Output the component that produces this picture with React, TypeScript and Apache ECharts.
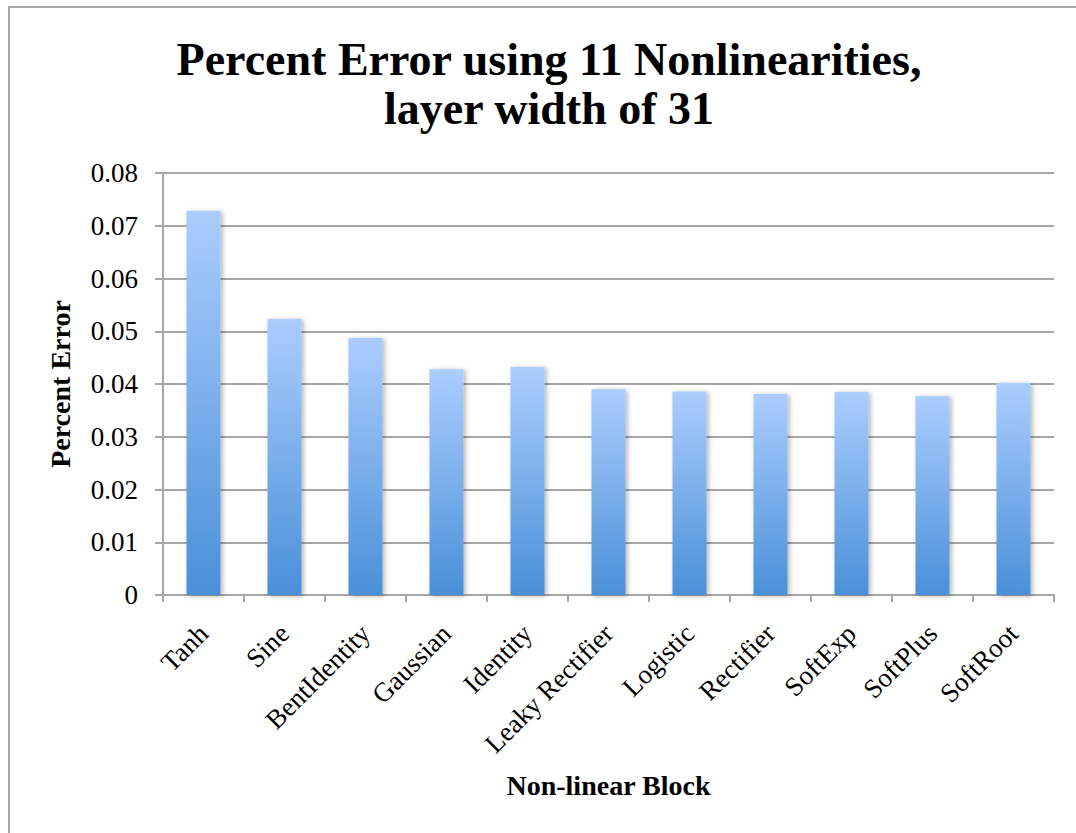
import React, { useEffect, useRef } from "react";
import * as echarts from "echarts";

const categories = [
  "Tanh",
  "Sine",
  "BentIdentity",
  "Gaussian",
  "Identity",
  "Leaky Rectifier",
  "Logistic",
  "Rectifier",
  "SoftExp",
  "SoftPlus",
  "SoftRoot",
];

const percentError = [
  0.0728, 0.0523, 0.0487, 0.0428, 0.0432, 0.039, 0.0386, 0.0381, 0.0385, 0.0377, 0.0402,
];

const titleLines = ["Percent Error using 11 Nonlinearities,", "layer width of 31"];
const xAxisTitle = "Non-linear Block";
const yAxisTitle = "Percent Error";

const SERIF = "'Liberation Serif', 'Times New Roman', serif";
const GRID_GRAY = "#a6a6a6";

export default function App() {
  const ref = useRef<HTMLDivElement>(null);

  useEffect(() => {
    if (!ref.current) return;
    const chart = echarts.init(ref.current, null, { renderer: "svg" });
    chart.setOption({
      animation: false,
      backgroundColor: "#ffffff",
      grid: { left: 163, right: 22, top: 173, bottom: 238, containLabel: false },
      graphic: [
        {
          type: "rect",
          z: -10,
          shape: { x: 9, y: 7, width: 1200, height: 1000 },
          style: { fill: "none", stroke: GRID_GRAY, lineWidth: 2 },
        },
        {
          type: "text",
          x: 549,
          y: 35,
          style: {
            text: titleLines.join("\n"),
            font: `bold 46px ${SERIF}`,
            lineHeight: 49,
            textAlign: "center",
            textVerticalAlign: "top",
            fill: "#000",
          },
        },
      ],
      xAxis: {
        type: "category",
        data: categories,
        name: xAxisTitle,
        nameLocation: "middle",
        nameGap: 176,
        nameTextStyle: { fontFamily: SERIF, fontWeight: "bold", fontSize: 28, color: "#000" },
        axisLine: { lineStyle: { color: GRID_GRAY, width: 2 } },
        axisTick: { show: true, alignWithLabel: false, length: 7, lineStyle: { color: GRID_GRAY, width: 2 } },
        axisLabel: {
          rotate: 45,
          interval: 0,
          margin: 34,
          fontFamily: SERIF,
          fontSize: 27,
          color: "#000",
        },
      },
      yAxis: {
        type: "value",
        min: 0,
        max: 0.08,
        interval: 0.01,
        name: yAxisTitle,
        nameLocation: "middle",
        nameGap: 89,
        nameTextStyle: { fontFamily: SERIF, fontWeight: "bold", fontSize: 28, color: "#000" },
        axisLine: { show: true, lineStyle: { color: GRID_GRAY, width: 2 } },
        axisTick: { show: true, length: 8, lineStyle: { color: GRID_GRAY, width: 2 } },
        splitLine: { lineStyle: { color: GRID_GRAY, width: 2 } },
        axisLabel: {
          margin: 25,
          fontFamily: SERIF,
          fontSize: 27,
          color: "#000",
          formatter: (v: number) => (v === 0 ? "0" : v.toFixed(2)),
        },
      },
      series: [
        {
          type: "bar",
          data: percentError,
          barWidth: "42%",
          itemStyle: {
            color: new echarts.graphic.LinearGradient(0, 0, 0, 1, [
              { offset: 0, color: "#abcdfe" },
              { offset: 1, color: "#4a90d8" },
            ]),
            shadowBlur: 5,
            shadowColor: "rgba(0,0,0,0.3)",
            shadowOffsetX: 2,
            shadowOffsetY: 1,
          },
        },
      ],
    });
    return () => chart.dispose();
  }, []);

  return (
    <div
      ref={ref}
      style={{ position: "absolute", left: 0, top: 0, width: 1076, height: 833 }}
    />
  );
}
